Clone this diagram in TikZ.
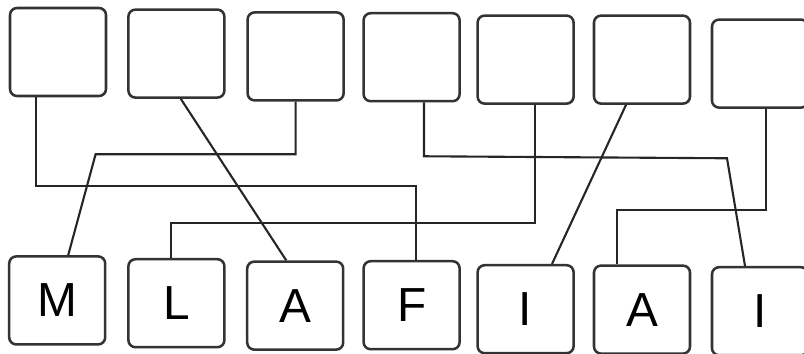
\documentclass[tikz,border=0pt]{standalone}
\usepackage{fontspec}
\setsansfont{Liberation Sans}

\begin{document}
\begin{tikzpicture}[
        tile/.style={draw=black!80, line width=1.8pt, rounded corners=5pt,
            minimum width=2.4cm, minimum height=2.2cm, inner sep=0pt,
            font=\sffamily\fontsize{34}{40}\selectfont},
        wire/.style={draw=black!85, line width=1.5pt}]

        \useasboundingbox (0,0) rectangle (20.1,-8.825);

        % NODES
        % top row (empty)
        \node[tile] (t1) at (1.45,-1.30) {};
        \node[tile] (t2) at (4.41,-1.34) {};
        \node[tile] (t3) at (7.39,-1.41) {};
        \node[tile] (t4) at (10.29,-1.43) {};
        \node[tile] (t5) at (13.14,-1.49) {};
        \node[tile] (t6) at (16.05,-1.49) {};
        \node[tile] (t7) at (19.00,-1.59) {};
        % bottom row (letters)
        \node[tile] (b1) at (1.43,-7.51) {M};
        \node[tile] (b2) at (4.41,-7.58) {L};
        \node[tile] (b3) at (7.38,-7.64) {A};
        \node[tile] (b4) at (10.29,-7.63) {F};
        \node[tile] (b5) at (13.14,-7.73) {I};
        \node[tile] (b6) at (16.05,-7.74) {A};
        \node[tile] (b7) at (19.00,-7.78) {I};

        % LINES
        \draw[wire] ([xshift=-0.55cm]t1.south) -- ++(0,-2.225) -| ([xshift=0.11cm]b4.north);
        \draw[wire] ([xshift=0.11cm]t2.south) -- ([xshift=-0.225cm]b3.north);
        \draw[wire] (t3.south) -- ++(0,-1.315) -- ++(-5.0,0) -- ([xshift=0.275cm]b1.north);
        \draw[wire] ([xshift=0.31cm]t4.south) -- ++(0,-1.345) -- ++(7.575,-0.05) -- ([xshift=-0.375cm]b7.north);
        \draw[wire] ([xshift=0.24cm]t5.south) -- ++(0,-2.96) -| ([xshift=-0.14cm]b2.north);
        \draw[wire] ([xshift=-0.4cm]t6.south) -- ([xshift=0.66cm]b5.north);
        \draw[wire] ([xshift=0.15cm]t7.south) -- ++(0,-2.535) -| ([xshift=-0.625cm]b6.north);
\end{tikzpicture}
\end{document}
